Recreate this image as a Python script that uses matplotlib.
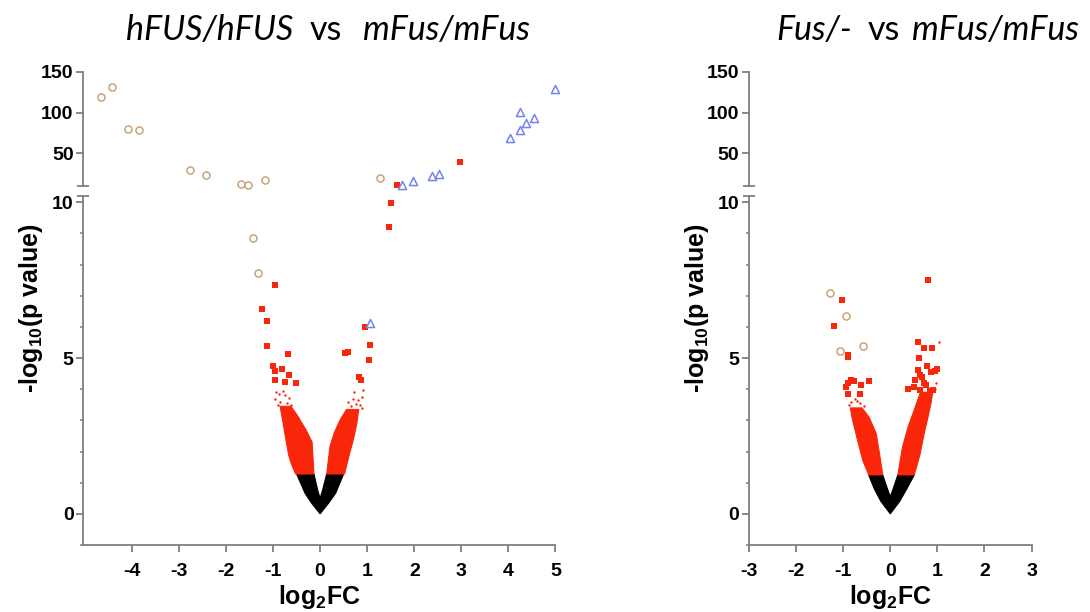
import matplotlib.pyplot as plt
from matplotlib.ticker import MultipleLocator

plt.rcParams['font.family'] = 'Liberation Sans'
plt.rcParams['font.weight'] = 'bold'
plt.rcParams['axes.unicode_minus'] = False
plt.rcParams['mathtext.fontset'] = 'custom'
plt.rcParams['mathtext.rm'] = 'Liberation Sans:bold'
plt.rcParams['mathtext.bf'] = 'Liberation Sans:bold'

GREY = '#7f7f7f'
RED = '#fa260a'
TAN = '#c9a47c'
BLUE = '#7484ee'

# ---------------- hFUS/hFUS vs mFus/mFus ----------------
h_circ_x = [-4.65, -4.42, -4.08, -3.84, -2.77, -2.42, -1.69, -1.54, -1.17, 1.27, -1.42, -1.32]
h_circ_y = [118.8, 131.7, 80.1, 78.9, 30.1, 23.6, 12.2, 11.0, 17.9, 20.0, 8.85, 7.74]
h_sq_x = [1.63, 2.97, 1.50, 1.47, -0.955, -1.24, -1.12, -1.12, -0.69, -1.00, -0.955, -0.81,
          -0.66, -0.955, -0.74, -0.51, 0.96, 1.06, 0.52, 0.60, 1.03, 0.83, 0.87]
h_sq_y = [11.8, 39.0, 9.99, 9.19, 7.35, 6.58, 6.18, 5.40, 5.13, 4.75, 4.59, 4.64,
          4.45, 4.28, 4.24, 4.21, 5.99, 5.41, 5.15, 5.19, 4.94, 4.38, 4.30]
h_tri_x = [1.73, 1.97, 2.38, 2.52, 4.03, 4.25, 4.37, 4.55, 4.25, 4.99, 1.05]
h_tri_y = [11.8, 16.7, 22.8, 24.9, 68.8, 78.9, 87.1, 93.5, 101.2, 128.9, 6.12]

# outline of the dense cloud of non-significant genes (black) and the two red arms
h_black_x = [0, -0.18, -0.32, -0.50, -0.13, -0.05, 0, 0.05, 0.14, 0.50, 0.33, 0.18]
h_black_y = [0, 0.34, 0.66, 1.28, 1.28, 0.75, 0.5, 0.75, 1.28, 1.28, 0.66, 0.34]
h_left_x = [-0.52, -0.61, -0.67, -0.74, -0.79, -0.85, -0.62, -0.48, -0.39, -0.30, -0.17, -0.13]
h_left_y = [1.28, 1.60, 1.90, 2.50, 2.95, 3.45, 3.45, 3.15, 2.92, 2.70, 2.30, 1.28]
h_right_x = [0.52, 0.62, 0.71, 0.78, 0.82, 0.56, 0.42, 0.30, 0.21, 0.14]
h_right_y = [1.28, 1.90, 2.40, 2.90, 3.35, 3.35, 3.00, 2.60, 2.16, 1.28]
h_dot_x = [-0.93, -0.88, -0.78, -0.67, -0.85, -0.70, -0.95, -0.62, -0.90, -0.74,
           0.85, 0.90, 0.92, 0.80, 0.72, 0.65, 0.60, 0.88, 0.76, 0.69]
h_dot_y = [3.90, 3.85, 3.95, 3.72, 3.60, 3.55, 3.70, 3.50, 3.48, 3.80,
           3.50, 3.75, 3.98, 3.65, 3.90, 3.45, 3.60, 3.40, 3.52, 3.70]

# ---------------- Fus/- vs mFus/mFus ----------------
f_circ_x = [-1.28, -0.93, -1.07, -0.59]
f_circ_y = [7.10, 6.34, 5.21, 5.40]
f_sq_x = [0.80, -1.02, -1.19, -0.89, -0.89, -0.83, -0.89, -0.78, -0.62, -0.45, -0.94, -0.90, -0.65,
          0.59, 0.71, 0.89, 0.60, 0.59, 0.78, 1.00, 0.86, 0.62, 0.53, 0.71, 0.84, 0.62, 0.37,
          0.76, 0.91, 0.51, 0.95, 0.68]
f_sq_y = [7.52, 6.87, 6.04, 5.09, 5.03, 4.31, 4.20, 4.25, 4.15, 4.27, 4.07, 3.86, 3.86,
          5.52, 5.31, 5.33, 4.99, 4.63, 4.75, 4.66, 4.55, 4.47, 4.28, 4.21, 3.93, 3.96, 4.01,
          4.12, 3.96, 4.07, 4.60, 4.40]
f_black_x = [0, -0.20, -0.34, -0.46, -0.16, -0.06, 0, 0.06, 0.16, 0.51, 0.35, 0.20]
f_black_y = [0, 0.40, 0.80, 1.25, 1.25, 0.80, 0.55, 0.80, 1.25, 1.25, 0.80, 0.40]
f_left_x = [-0.46, -0.58, -0.66, -0.80, -0.85, -0.60, -0.45, -0.30, -0.23, -0.16]
f_left_y = [1.25, 1.70, 2.15, 3.00, 3.40, 3.40, 3.10, 2.58, 1.94, 1.25]
f_right_x = [0.51, 0.63, 0.72, 0.80, 0.87, 0.90, 0.64, 0.50, 0.38, 0.26, 0.16]
f_right_y = [1.25, 1.90, 2.58, 3.10, 3.60, 3.90, 3.90, 3.30, 2.80, 2.15, 1.25]
f_dot_x = [-0.83, -0.75, -0.65, -0.55, -0.88, -0.70, 1.03, 0.95, 0.98]
f_dot_y = [3.60, 3.70, 3.55, 3.45, 3.50, 3.62, 5.52, 4.00, 4.20]

W, H = 1090, 612
fig = plt.figure(figsize=(W / 100, H / 100), dpi=100)


def box(left, right, top, bottom):
    return [left / W, 1 - bottom / H, (right - left) / W, (bottom - top) / H]


def style(ax):
    for s in ['top', 'right']:
        ax.spines[s].set_visible(False)
    for s in ['left', 'bottom']:
        ax.spines[s].set_color(GREY)
        ax.spines[s].set_linewidth(1.3)
    ax.tick_params(which='major', direction='out', length=5, width=1.3, color=GREY,
                   labelsize=14, pad=2)
    ax.tick_params(which='minor', direction='out', length=2.5, width=1.1, color=GREY)
    ax.patch.set_alpha(0)


def split(xs, ys, upper):
    pts = [(x, y) for x, y in zip(xs, ys) if (y > 10.3) == upper]
    return [p[0] for p in pts], [p[1] for p in pts]


def panel(left, right, xlim, xticks, circ, sq, tri, black, larm, rarm, dots):
    top = fig.add_axes(box(left, right, 71.7, 186))
    low = fig.add_axes(box(left, right, 196, 545))
    for ax in (top, low):
        style(ax)
        ax.set_xlim(*xlim)
    top.set_ylim(10, 150)
    top.set_yticks([50, 100, 150])
    top.spines['bottom'].set_visible(False)
    top.set_xticks([])
    low.set_ylim(-1, 10.2)
    low.set_yticks([0, 5, 10])
    low.yaxis.set_minor_locator(MultipleLocator(1))
    low.set_xticks(xticks)
    low.tick_params(axis='x', pad=8)
    # break caps
    top.plot([0], [0], marker='_', ms=9, mew=1.3, color=GREY, transform=top.transAxes, clip_on=False)
    low.plot([0], [1], marker='_', ms=9, mew=1.3, color=GREY, transform=low.transAxes, clip_on=False)

    low.fill(black[0], black[1], color='black', lw=0.8, ec='black', zorder=2)
    low.fill(larm[0], larm[1], color=RED, lw=0.8, ec=RED, zorder=2)
    low.fill(rarm[0], rarm[1], color=RED, lw=0.8, ec=RED, zorder=2)
    low.scatter(dots[0], dots[1], s=3, color=RED, lw=0, zorder=2)

    for ax, up in ((top, True), (low, False)):
        if sq:
            x, y = split(sq[0], sq[1], up)
            ax.scatter(x, y, s=20, marker='s', color=RED, lw=0, zorder=4, clip_on=False)
        if circ:
            x, y = split(circ[0], circ[1], up)
            ax.scatter(x, y, s=26, marker='o', facecolor='white', edgecolor=TAN, lw=1.1,
                       zorder=5, clip_on=False)
        if tri:
            x, y = split(tri[0], tri[1], up)
            ax.scatter(x, y, s=34, marker='^', facecolor='white', edgecolor=BLUE, lw=1.1,
                       zorder=5, clip_on=False)

    cx = (left + right) / 2 / W
    fig.text((left - 52) / W, 1 - 308 / H, r'-log$_{10}$(p value)', rotation=90, fontsize=18,
             ha='center', va='center')
    fig.text(cx, 1 - 597 / H, r'log$_2$FC', fontsize=18, ha='center', va='center')


def title(x_px, parts, gaps):
    t = fig.text(x_px / W, 1 - 40 / H, parts[0][0], fontsize=24.5, family='Lato',
                 style=parts[0][1], weight='normal', ha='left', va='baseline')
    for (txt, st), g in zip(parts[1:], gaps):
        t = fig.axes[0].annotate(txt, xy=(1, 0), xycoords=t, xytext=(g, 0),
                                 textcoords='offset pixels', fontsize=24.5, family='Lato',
                                 style=st, weight='normal', ha='left', va='bottom',
                                 annotation_clip=False)


panel(83.3, 555.5, (-5.03, 5), list(range(-4, 6)),
      (h_circ_x, h_circ_y), (h_sq_x, h_sq_y), (h_tri_x, h_tri_y),
      (h_black_x, h_black_y), (h_left_x, h_left_y), (h_right_x, h_right_y), (h_dot_x, h_dot_y))
panel(749, 1031.6, (-3, 3), list(range(-3, 4)),
      (f_circ_x, f_circ_y), (f_sq_x, f_sq_y), None,
      (f_black_x, f_black_y), (f_left_x, f_left_y), (f_right_x, f_right_y), (f_dot_x, f_dot_y))

title(126, [('hFUS/hFUS', 'italic'), ('vs', 'normal'), ('mFus/mFus', 'italic')], [16, 21])
title(776, [('Fus/-', 'italic'), ('vs', 'normal'), ('mFus/mFus', 'italic')], [16, 12])

fig.savefig('out.png', dpi=100)
